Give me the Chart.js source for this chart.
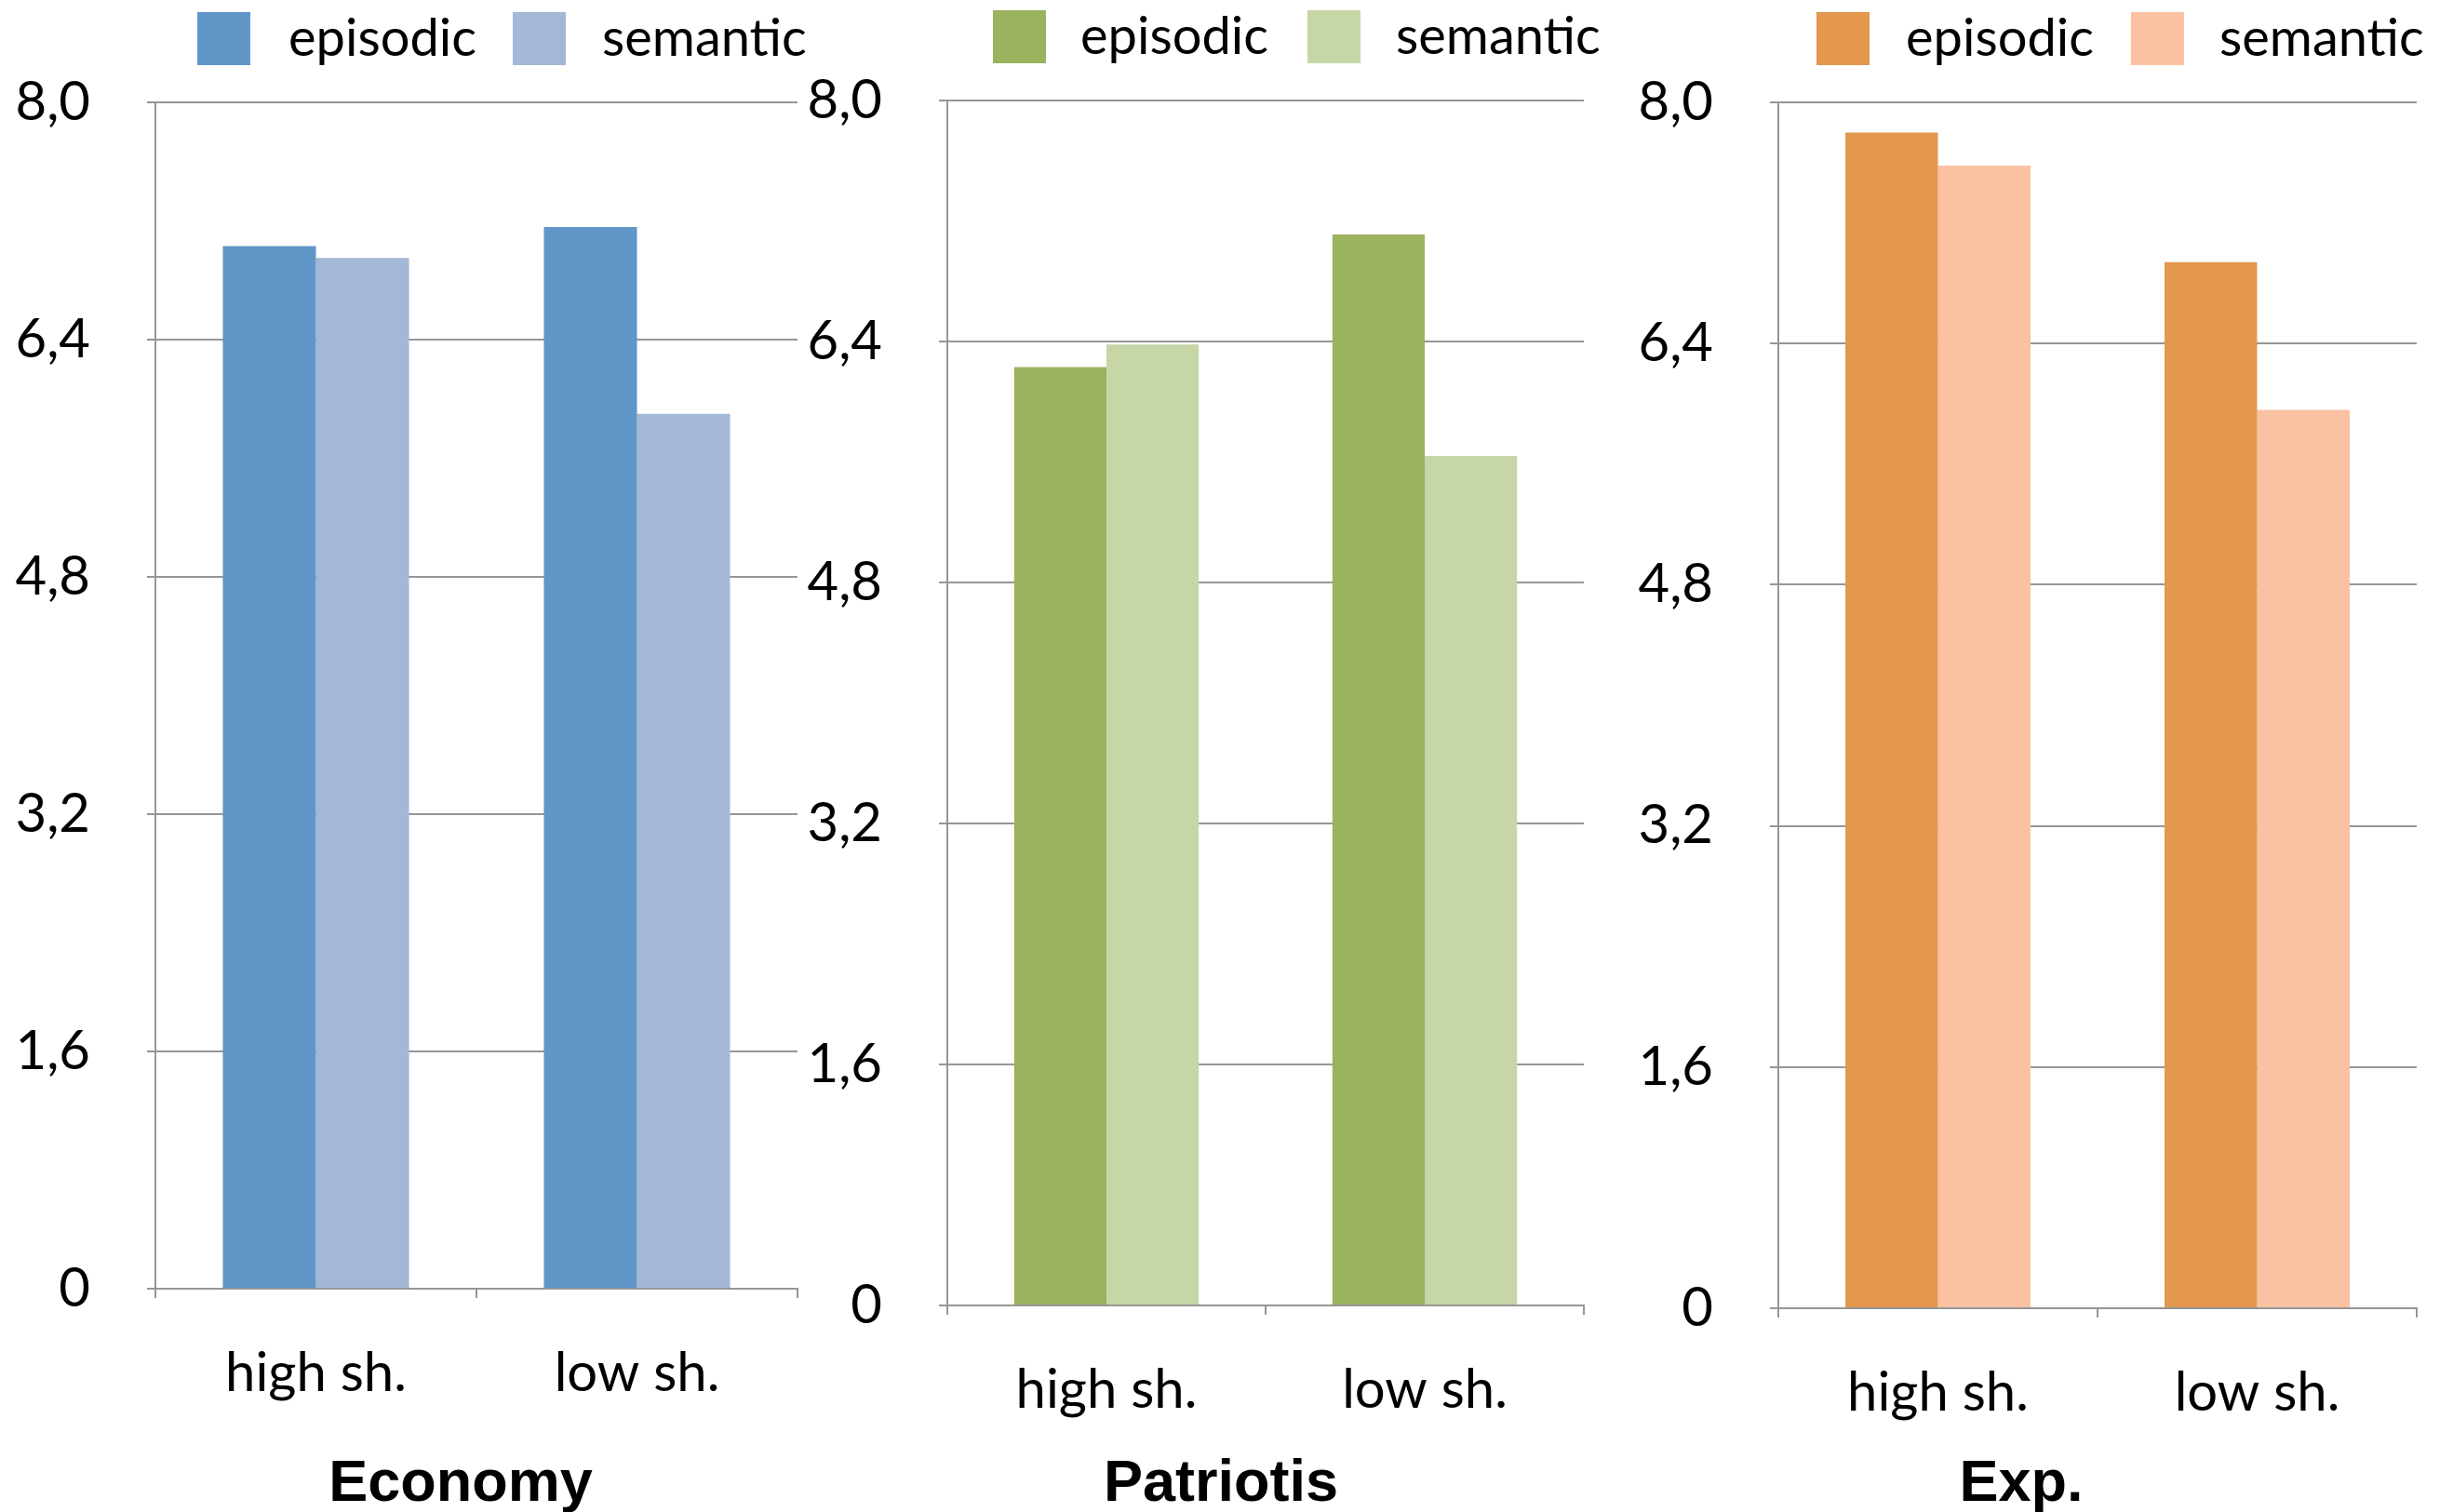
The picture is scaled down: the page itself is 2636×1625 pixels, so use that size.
<!DOCTYPE html>
<html>
<head>
<meta charset="utf-8">
<title>Episodic vs semantic</title>
<script src="https://cdn.jsdelivr.net/npm/chart.js@4/dist/chart.umd.min.js"></script>
<style>
  html, body { margin: 0; padding: 0; background: #ffffff; }
  #wrap { position: relative; width: 2636px; height: 1625px; overflow: hidden; }
  #wrap canvas { position: absolute; left: 0; top: 0; }
</style>
</head>
<body>
<div id="wrap">
  <canvas id="c1" width="2636" height="1625"></canvas>
  <canvas id="c2" width="2636" height="1625"></canvas>
  <canvas id="c3" width="2636" height="1625"></canvas>
</div>
<script>
// ---- data ----
const categories = ['high sh.', 'low sh.'];
const seriesNames = ['episodic', 'semantic'];
const panelTitles = ['Economy', 'Patriotis', 'Exp.'];
const yTickLabels = ['0', '1,6', '3,2', '4,8', '6,4', '8,0'];

const economyEpisodic = [7.03, 7.16];
const economySemantic = [6.95, 5.90];
const patriotisEpisodic = [6.23, 7.11];
const patriotisSemantic = [6.38, 5.64];
const expEpisodic = [7.80, 6.94];
const expSemantic = [7.58, 5.96];

// ---- styling ----
const W = 2636, H = 1625;
const GRID = '#969696';
const LEGEND_FONT = { family: 'Lato', size: 56 };
const TICK_FONT = { family: 'Lato', size: 58 };

// Legend and panel title drawn at fixed spots on the shared page canvas
const panelDecor = {
  id: 'panelDecor',
  afterDraw(chart, args, o) {
    const ctx = chart.ctx;
    ctx.save();
    // legend
    chart.data.datasets.forEach((ds, i) => {
      ctx.fillStyle = ds.backgroundColor;
      ctx.fillRect(o.boxX[i], o.boxTop, o.boxSize, o.boxSize);
      ctx.fillStyle = '#000';
      ctx.font = `${LEGEND_FONT.size}px ${LEGEND_FONT.family}`;
      ctx.textAlign = 'left';
      ctx.textBaseline = 'alphabetic';
      ctx.fillText(ds.label, o.textX[i], o.textBase);
    });
    // title under the axis
    ctx.font = 'bold 63px "Liberation Sans", Arial, sans-serif';
    ctx.textAlign = 'center';
    ctx.textBaseline = 'alphabetic';
    ctx.fillStyle = '#000';
    ctx.fillText(o.title, o.titleX, o.titleBase);
    ctx.restore();
  }
};

function makePanel(id, title, episodic, semantic, colors, geo, deco) {
  const Y_W = 160, X_H = 150;
  return new Chart(document.getElementById(id), {
    type: 'bar',
    data: {
      labels: categories,
      datasets: [
        { label: seriesNames[0], data: episodic, backgroundColor: colors[0] },
        { label: seriesNames[1], data: semantic, backgroundColor: colors[1] }
      ]
    },
    options: {
      responsive: false,
      animation: false,
      events: [],
      layout: {
        padding: {
          left: geo.axisX - Y_W,
          right: W - geo.rightX,
          top: geo.topY,
          bottom: H - geo.bottomY - X_H
        }
      },
      datasets: { bar: { categoryPercentage: 0.58, barPercentage: 1.0, borderWidth: 0 } },
      plugins: {
        legend: { display: false },
        title: { display: false },
        tooltip: { enabled: false },
        panelDecor: Object.assign({ title }, deco)
      },
      scales: {
        x: {
          afterFit(s) { s.height = X_H; },
          grid: {
            offset: true,
            drawOnChartArea: false,
            drawTicks: true,
            tickLength: 10,
            color: GRID,
            lineWidth: 2
          },
          border: { display: true, color: GRID, width: 2 },
          ticks: { font: TICK_FONT, color: '#000', padding: 46, maxRotation: 0 }
        },
        y: {
          min: 0,
          max: 8,
          afterFit(s) { s.width = Y_W; },
          grid: {
            drawOnChartArea: true,
            drawTicks: true,
            tickLength: 9,
            color: GRID,
            lineWidth: 2
          },
          border: { display: true, color: GRID, width: 2 },
          ticks: {
            stepSize: 1.6,
            font: TICK_FONT,
            color: '#000',
            padding: 61,
            callback: (v, i) => yTickLabels[i]
          }
        }
      }
    },
    plugins: [panelDecor]
  });
}

makePanel('c1', panelTitles[0], economyEpisodic, economySemantic,
  ['#6196C9', '#A3B8D7'],
  { axisX: 167, rightX: 857, topY: 110, bottomY: 1385 },
  { boxX: [212, 551], boxTop: 13, boxSize: 57, textX: [310, 647], textBase: 60, titleX: 495, titleBase: 1613 });

makePanel('c2', panelTitles[1], patriotisEpisodic, patriotisSemantic,
  ['#9BB25F', '#C6D6A6'],
  { axisX: 1018, rightX: 1702, topY: 108, bottomY: 1403 },
  { boxX: [1067, 1405], boxTop: 11, boxSize: 57, textX: [1161, 1500], textBase: 58, titleX: 1312, titleBase: 1613 });

makePanel('c3', panelTitles[2], expEpisodic, expSemantic,
  ['#E3974F', '#FAC2A2'],
  { axisX: 1911, rightX: 2597, topY: 110, bottomY: 1406 },
  { boxX: [1952, 2290], boxTop: 13, boxSize: 57, textX: [2048, 2385], textBase: 60, titleX: 2172, titleBase: 1613 });
</script>
</body>
</html>
